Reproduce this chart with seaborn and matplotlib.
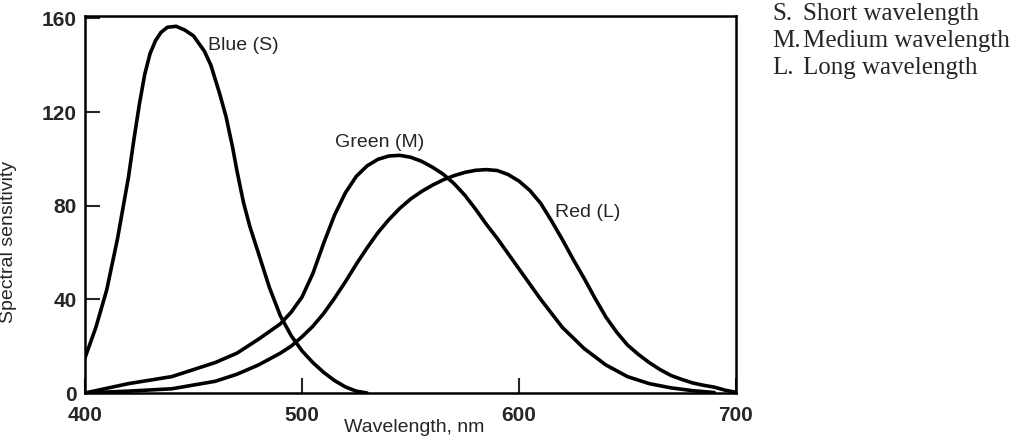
import matplotlib
matplotlib.use("Agg")
import matplotlib.pyplot as plt
import seaborn as sns

# values
blue_wl = [400, 405, 410, 415, 417.5, 420, 422.5, 425, 427.5, 430, 432.5, 435, 438,
           442, 446, 450, 455, 458, 462, 465, 468, 470, 473, 476, 480, 485, 490,
           495, 500, 505, 510, 515, 520, 525, 530]
blue_val = [15, 28, 44, 66, 79, 92, 108, 123, 136, 145, 150.5, 154, 156.2,
            156.6, 155, 152.5, 146, 140, 128, 118, 105, 95, 81.5, 71, 59.5, 45, 33,
            24.5, 18, 13, 8.8, 5.3, 2.6, 0.8, 0]

green_wl = [400, 420, 440, 460, 470, 480, 490, 495, 500, 505, 510, 515, 520, 525,
            530, 535, 540, 545, 550, 555, 560, 565, 570, 575, 580, 585, 590, 595,
            600, 605, 610, 620, 630, 640, 650, 660, 670, 680, 690]
green_val = [0, 4, 7, 13, 17, 23, 29.5, 34.5, 41, 51, 64, 76, 85.5, 92.5,
             97, 99.8, 101.2, 101.5, 100.7, 99, 96.5, 93.5, 89.5, 84.5, 78.5, 72, 66, 59.5,
             53, 46.5, 40, 28, 19, 12, 7, 4, 2.2, 1, 0.2]

red_wl = [400, 420, 440, 460, 470, 480, 490, 495, 500, 505, 510, 515, 520, 525,
          530, 535, 540, 545, 550, 555, 560, 565, 570, 575, 580, 585, 590, 595,
          600, 605, 610, 615, 620, 625, 630, 635, 640, 645, 650, 655, 660, 665,
          670, 675, 680, 685, 690, 695, 700]
red_val = [0, 0.8, 1.8, 5, 8, 12, 17, 20, 24, 28.5, 34, 40.5, 47.5, 55,
           62, 68.5, 74, 78.8, 82.8, 86, 88.7, 91, 92.8, 94.2, 95.1, 95.4, 95, 93.3,
           90.5, 86.5, 81, 73.5, 65.5, 57, 49, 40.5, 32.5, 26, 20.5, 16.5, 13, 10,
           7.5, 5.8, 4.3, 3.3, 2.5, 1.2, 0.3]

curve_names = ["Blue (S)", "Green (M)", "Red (L)"]
x_ticks = [400, 500, 600, 700]
y_ticks = [0, 40, 80, 120, 160]
key_letters = ["S.", "M.", "L."]
key_words = ["Short wavelength", "Medium wavelength", "Long wavelength"]

sns.set_style("ticks")
plt.rcParams["font.family"] = ["Liberation Sans", "DejaVu Sans"]

fig = plt.figure(figsize=(10.29, 4.48), dpi=100)
ax = fig.add_axes([85/1029, 1-393/448, (736-85)/1029, (393-16)/448])

for wl, val in [(blue_wl, blue_val), (green_wl, green_val), (red_wl, red_val)]:
    sns.lineplot(x=wl, y=val, color="black", lw=2.6, ax=ax)

ax.set_xlim(400, 700)
ax.set_ylim(0, 161)
ax.set_xticks(x_ticks)
ax.set_yticks(y_ticks)
ax.set_xticklabels([str(t) for t in x_ticks], fontsize=15, fontweight="bold")
ax.set_yticklabels([str(t) for t in y_ticks], fontsize=15, fontweight="bold")
ax.tick_params(direction="in", length=11, width=1.5, pad=6)
ax.tick_params(axis="x", pad=9)
for s in ax.spines.values():
    s.set_linewidth(1.8)
    s.set_color("black")

ax.set_xlabel("Wavelength, nm", fontsize=14)
ax.set_ylabel("Spectral sensitivity", fontsize=14)
ax.xaxis.set_label_coords(0.505, -0.07)
ax.yaxis.set_label_coords(-0.105, 0.40)

ax.text(456.7, 146.6, curve_names[0], fontsize=14, ha="left", va="baseline")
ax.text(515.2, 105, curve_names[1], fontsize=14, ha="left", va="baseline")
ax.text(616.6, 75.2, curve_names[2], fontsize=14, ha="left", va="baseline")

for i, (let, word) in enumerate(zip(key_letters, key_words)):
    yb = 1 - (20 + 27*i)/448
    fig.text(772/1029, yb, let, fontsize=18, family=["Liberation Serif"], va="baseline")
    fig.text(803/1029, yb, word, fontsize=18, family=["Liberation Serif"], va="baseline")

fig.savefig("out.png", dpi=100)
